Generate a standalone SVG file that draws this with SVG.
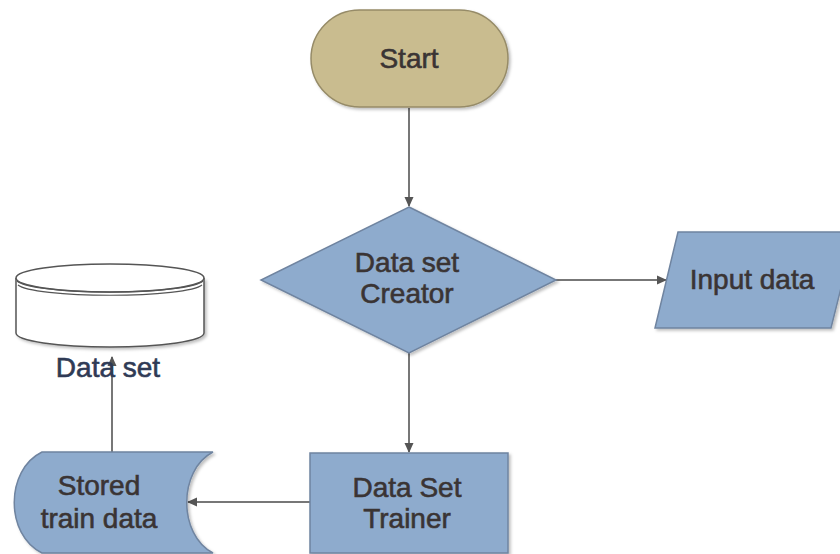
<svg xmlns="http://www.w3.org/2000/svg" width="840" height="554" viewBox="0 0 840 554">
<defs>
<filter id="sh" x="-10%" y="-10%" width="130%" height="130%">
<feDropShadow dx="2" dy="2" stdDeviation="1.5" flood-color="#000" flood-opacity="0.25"/>
</filter>
<marker id="ah" markerWidth="10" markerHeight="10" refX="9" refY="5" orient="auto" markerUnits="userSpaceOnUse">
<path d="M0,0.5 L10,5 L0,9.5 Z" fill="#555"/>
</marker>
</defs>
<style>
.blue{fill:#8eabcd;stroke:#6f84a0;stroke-width:1.5}
.tan{fill:#c9bc8f;stroke:#968b67;stroke-width:1.5}
.db{fill:#fff;stroke:#555;stroke-width:1.5}
.t{font-family:"Liberation Sans",Arial,sans-serif;font-size:28px;fill:#3a3434;stroke:#3a3434;stroke-width:0.6;text-anchor:middle}
.c{stroke:#777;stroke-width:2;fill:none;marker-end:url(#ah)}
</style>
<rect width="840" height="554" fill="#fff"/>
<g id="connectors">
<line class="c" x1="409" y1="108" x2="409" y2="206"/>
<line class="c" x1="555" y1="280" x2="666" y2="280"/>
<line class="c" x1="409" y1="353" x2="409" y2="452"/>
<line class="c" x1="310" y1="502" x2="188" y2="502"/>
<line class="c" x1="112" y1="452" x2="112" y2="357"/>
</g>
<g id="start">
<rect class="tan" x="311" y="10" width="197" height="97" rx="48.5" filter="url(#sh)"/>
<text class="t" x="409" y="68">Start</text>
</g>
<g id="creator">
<polygon class="blue" points="409,207 556,280 409,353 261,280" filter="url(#sh)"/>
<text class="t" x="407" y="272">Data set</text>
<text class="t" x="407" y="303">Creator</text>
</g>
<g id="input">
<polygon class="blue" points="678,232 855,232 831,328 655,328" filter="url(#sh)"/>
<text class="t" x="752" y="289">Input data</text>
</g>
<g id="trainer">
<rect class="blue" x="310" y="453" width="198" height="100" filter="url(#sh)"/>
<text class="t" x="407" y="497">Data Set</text>
<text class="t" x="407" y="528">Trainer</text>
</g>
<g id="stored">
<path class="blue" d="M42,452 H213 C178,470 178,535 213,553 H42 C5,535 5,470 42,452 Z" filter="url(#sh)"/>
<text class="t" x="99" y="495">Stored</text>
<text class="t" x="99" y="528">train data</text>
</g>
<g id="dataset">
<path class="db" d="M16,278 V333 A94,14 0 0 0 204,333 V278" filter="url(#sh)"/>
<ellipse class="db" cx="110" cy="278" rx="94" ry="14"/>
<path d="M17,281 A94,13 0 0 0 203,281" fill="none" stroke="#555" stroke-width="1.2"/>
<path d="M18,285 A93,12 0 0 0 202,285" fill="none" stroke="#555" stroke-width="1.2"/>
<text class="t" x="108" y="377" style="fill:#2f3a55;stroke:#2f3a55">Data set</text>
</g>
</svg>
